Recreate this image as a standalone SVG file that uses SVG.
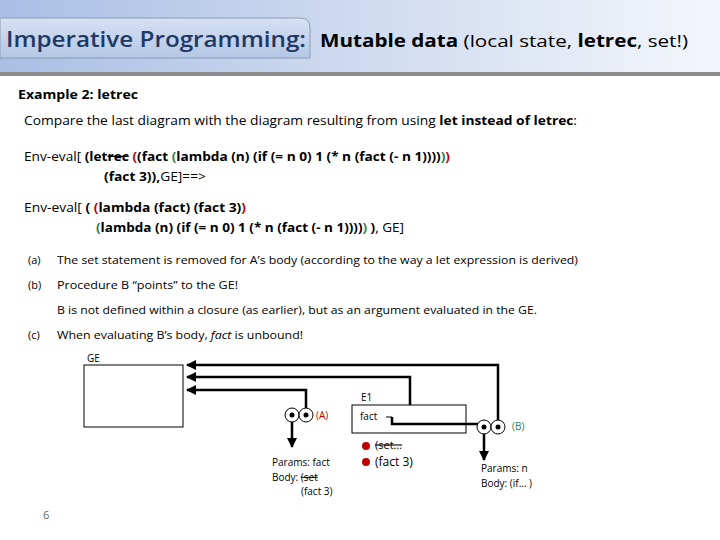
<svg xmlns="http://www.w3.org/2000/svg" width="720" height="540" viewBox="0 0 720 540">
<defs>
<linearGradient id="hd" x1="0" x2="1" y1="0" y2="0"><stop offset="0" stop-color="#a9bfe4"/><stop offset="1" stop-color="#f4f6fb"/></linearGradient>
<linearGradient id="tab" x1="0" x2="0" y1="0" y2="1"><stop offset="0" stop-color="#d6e1f2"/><stop offset="1" stop-color="#b4c7e6"/></linearGradient>
<marker id="ah" viewBox="0 0 10 10" refX="9" refY="5" markerWidth="4" markerHeight="4" orient="auto"><path d="M0,0L10,5L0,10z" fill="#000"/></marker>
</defs>
<style>
text{font-family:"Open Sans","Liberation Sans",sans-serif;fill:#000}
.t{font-size:13px}
.s{font-size:11px}
.b{font-weight:bold}
.red{fill:#c00000}.grn{fill:#2e7d5b}
.ln{fill:none;stroke:#000;stroke-width:2.5}
.bx{fill:#fff;stroke:#000;stroke-width:1}
.c{fill:#fff;stroke:#000;stroke-width:1}
</style>
<rect width="720" height="540" fill="#fff"/>
<rect x="0" y="0" width="720" height="72" fill="url(#hd)"/>
<rect x="0" y="72" width="720" height="4" fill="#8c8c8c"/>
<path d="M0,18H300Q310,18 310,28V58H0Z" fill="url(#tab)" stroke="#8a9cb8"/>
<text x="6" y="47" textLength="300" lengthAdjust="spacingAndGlyphs" style="font-size:21px;font-weight:600;fill:#1f3864">Imperative Programming:</text>
<text x="320" y="47" textLength="368" lengthAdjust="spacingAndGlyphs" style="font-size:17px"><tspan class="b">Mutable data</tspan> (local state, <tspan class="b">letrec</tspan>, set!)</text>
<text x="18" y="99" class="t b" textLength="120" lengthAdjust="spacingAndGlyphs">Example 2: letrec</text>
<text x="24" y="125" class="t" textLength="553" lengthAdjust="spacingAndGlyphs">Compare the last diagram with the diagram resulting from using <tspan class="b">let instead of letrec</tspan>:</text>
<text x="24" y="161" class="t" textLength="426" lengthAdjust="spacingAndGlyphs">Env-eval[ <tspan class="b">(let<tspan text-decoration="line-through">rec</tspan> <tspan class="red">(</tspan>(fact <tspan class="grn">(</tspan>lambda (n) (if (= n 0) 1 (* n (fact (- n 1))))<tspan class="grn">)</tspan><tspan class="red">)</tspan></tspan></text>
<text x="104" y="181" class="t" textLength="102" lengthAdjust="spacingAndGlyphs"><tspan class="b">(fact 3)),</tspan>GE]==&gt;</text>
<text x="24" y="212" class="t" textLength="222" lengthAdjust="spacingAndGlyphs">Env-eval[ <tspan class="b">( <tspan class="red">(</tspan>lambda (fact) (fact 3)<tspan class="red">)</tspan></tspan></text>
<text x="96" y="232" class="t" textLength="308" lengthAdjust="spacingAndGlyphs"><tspan class="b"><tspan class="grn">(</tspan>lambda (n) (if (= n 0) 1 (* n (fact (- n 1))))<tspan class="grn">)</tspan> )</tspan>, GE]</text>
<text x="28" y="264" class="s">(a)</text><text x="57" y="264" class="s" textLength="521" lengthAdjust="spacingAndGlyphs">The set statement is removed for A’s body (according to the way a let expression is derived)</text>
<text x="28" y="289" class="s">(b)</text><text x="57" y="289" class="s" textLength="181" lengthAdjust="spacingAndGlyphs">Procedure B “points” to the GE!</text>
<text x="57" y="314" class="s" textLength="480" lengthAdjust="spacingAndGlyphs">B is not defined within a closure (as earlier), but as an argument evaluated in the GE.</text>
<text x="28" y="339" class="s">(c)</text><text x="57" y="339" class="s" textLength="246" lengthAdjust="spacingAndGlyphs">When evaluating B’s body, <tspan font-style="italic">fact</tspan> is unbound!</text>
<g id="GE"><rect class="bx" x="84" y="365" width="99" height="62"/><text x="87" y="362" style="font-size:10px">GE</text></g>
<g id="E1"><rect class="bx" x="352" y="405" width="114" height="28"/><text x="361" y="401" style="font-size:10px">E1</text><text x="360" y="420" style="font-size:10px">fact</text></g>
<g id="connectors">
<path class="ln" d="M498,427V365H187" marker-end="url(#ah)"/>
<path class="ln" d="M410,405V377H187" marker-end="url(#ah)"/>
<path class="ln" d="M306,415V390H187" marker-end="url(#ah)"/>
<path class="ln" d="M292,415V447" marker-end="url(#ah)"/>
<path class="ln" d="M484,427V460" marker-end="url(#ah)"/>
<path fill="none" stroke="#000" stroke-width="1" d="M386,417H392"/>
<path class="ln" d="M392,417V424H481"/>
</g>
<g id="A"><circle class="c" cx="292" cy="415" r="7"/><circle class="c" cx="306" cy="415" r="7"/><circle cx="292" cy="415" r="2.5"/><circle cx="306" cy="415" r="2.5"/><text x="316" y="419" class="red" style="font-size:10px">(A)</text>
<text x="272" y="466" style="font-size:10px">Params: fact</text><text x="272" y="481" style="font-size:10px">Body: <tspan text-decoration="line-through">(set</tspan></text><text x="301" y="495" style="font-size:10px">(fact 3)</text></g>
<g id="B"><circle class="c" cx="484" cy="427" r="7"/><circle class="c" cx="498" cy="427" r="7"/><circle cx="484" cy="427" r="2.5"/><circle cx="498" cy="427" r="2.5"/><text x="512" y="430" class="grn" style="font-size:10px">(B)</text>
<text x="481" y="472" style="font-size:10px">Params: n</text><text x="481" y="487" style="font-size:10px">Body: (if… )</text></g>
<g id="E1body"><circle cx="366" cy="446" r="4" fill="#c00000"/><circle cx="366" cy="462" r="4" fill="#c00000"/><text x="375" y="449" style="font-size:11px" text-decoration="line-through">(set…</text><text x="375" y="466" style="font-size:12px">(fact 3)</text></g>
<text x="43" y="519" style="font-size:11px;fill:#666">6</text>
</svg>
